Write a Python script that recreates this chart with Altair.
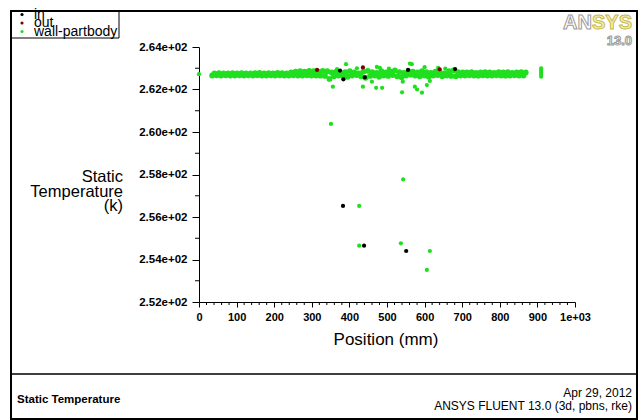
import altair as alt
import pandas as pd

# ---------------- data ----------------
series_names = ["in", "out", "wall-partbody"]
series_colors = ["#000000", "#7a0000", "#1fdf1f"]

band_low_pos = [35, 47, 59, 71, 83, 95, 107, 119, 131, 143, 155, 167, 179, 191, 203, 215, 227,
                239, 251, 263, 275, 287, 299, 311, 323, 335,
                347, 359, 371, 383, 395, 407, 419, 431, 443, 455, 467, 479, 491, 503, 515,
                527, 539, 551, 563, 575, 587, 599, 611, 623, 635, 647, 659, 671, 683, 695,
                707, 719, 731, 743, 755, 767, 779, 791, 803, 815, 827, 839, 851, 863]
band_low_temp = [262.66, 262.67, 262.66, 262.67, 262.66, 262.66, 262.67, 262.66, 262.67, 262.66,
                 262.67, 262.66, 262.66, 262.67, 262.66, 262.67, 262.66,
                 262.66, 262.67, 262.66, 262.66, 262.67, 262.66, 262.66, 262.65, 262.64,
                 262.50, 262.62, 262.66, 262.64, 262.60, 262.66, 262.68, 262.62, 262.55, 262.64,
                 262.66, 262.60, 262.66, 262.64, 262.68, 262.62, 262.58, 262.66, 262.70, 262.66,
                 262.62, 262.66, 262.60, 262.66, 262.68, 262.62, 262.66, 262.64, 262.62, 262.66,
                 262.66, 262.67, 262.66, 262.65, 262.67, 262.66, 262.66, 262.67, 262.66, 262.65,
                 262.66, 262.67, 262.66, 262.66]
band_high_pos = [41, 53, 65, 77, 89, 101, 113, 125, 137, 149, 161, 173, 185, 197, 209, 221, 233,
                 245, 257, 269, 281, 293, 305, 317, 329, 341,
                 353, 365, 377, 389, 401, 413, 425, 437, 449, 461, 473, 485, 497, 509, 521,
                 533, 545, 557, 569, 581, 593, 605, 617, 629, 641, 653, 665, 677, 689, 701,
                 713, 725, 737, 749, 761, 773, 785, 797, 809, 821, 833, 845, 857, 869]
band_high_temp = [262.76, 262.77, 262.76, 262.76, 262.77, 262.76, 262.77, 262.76, 262.76, 262.77,
                  262.78, 262.76, 262.77, 262.76, 262.78, 262.77, 262.76,
                  262.80, 262.84, 262.86, 262.84, 262.88, 262.86, 262.84, 262.88, 262.86,
                  262.80, 262.84, 262.78, 262.82, 262.86, 262.80, 262.76, 262.84, 262.88, 262.82,
                  262.78, 262.86, 262.80, 262.84, 262.90, 262.82, 262.78, 262.86, 262.84, 262.80,
                  262.86, 262.82, 262.78, 262.84, 262.80, 262.76, 262.86, 262.90, 262.82, 262.80,
                  262.80, 262.82, 262.78, 262.80, 262.82, 262.80, 262.78, 262.82, 262.80, 262.82,
                  262.78, 262.80, 262.82, 262.80]

wall_extra_pos = [0, 910, 910, 910, 910, 910,
                  356, 436, 460, 471, 487, 540, 542, 574, 580, 593, 606, 614,
                  391, 367, 481, 566, 636, 473, 561, 420, 505, 600, 655,
                  351, 543, 426, 426, 537, 614, 606]
wall_extra_temp = [262.72, 262.60, 262.70, 262.80, 262.90, 263.00,
                   262.13, 262.13, 262.37, 262.08, 262.08, 261.87, 262.37, 262.13, 262.00, 261.85,
                   262.21, 262.40,
                   263.19, 262.96, 263.02, 263.19, 263.02, 263.06, 263.22, 263.00, 262.98,
                   263.05, 262.98,
                   260.38, 257.77, 256.52, 254.65, 254.76, 254.40, 253.51]

in_pos = [383, 439, 551, 384, 375, 441, 556, 681]
in_temp = [256.52, 254.65, 254.40, 262.48, 262.89, 262.57, 262.92, 262.96]
out_pos = [314, 436, 640]
out_temp = [262.92, 263.04, 262.95]

x_ticks = [0, 100, 200, 300, 400, 500, 600, 700, 800, 900, 1000]
y_ticks = [252, 254, 256, 258, 260, 262, 264]
x_minor = [v for v in range(0, 1001, 20) if v % 100 != 0]
y_minor = [253, 255, 257, 259, 261, 263]

FONT = "Liberation Sans"

# ---------------- tables ----------------
band_df = pd.DataFrame({
    "pos": band_low_pos + band_high_pos,
    "temp": band_low_temp + band_high_temp,
    "series": ["wall-partbody"] * (len(band_low_pos) + len(band_high_pos)),
})
pts_df = pd.DataFrame({
    "pos": wall_extra_pos + in_pos + out_pos,
    "temp": wall_extra_temp + in_temp + out_temp,
    "series": ["wall-partbody"] * len(wall_extra_pos) + ["in"] * len(in_pos) + ["out"] * len(out_pos),
    "z": [0] * len(wall_extra_pos) + [1] * (len(in_pos) + len(out_pos)),
})

xs = alt.Scale(domain=[0, 1000], nice=False, zero=False)
ys = alt.Scale(domain=[252, 264], nice=False, zero=False)
cs = alt.Scale(domain=series_names, range=series_colors)

x_axis = alt.Axis(values=x_ticks, title=None, grid=False, tickSize=5, labelPadding=4,
                  labelExpr="datum.value == 1000 ? '1e+03' : format(datum.value, 'd')",
                  labelOverlap=False, labelFlush=False, labelBound=False,
                  labelFont=FONT, labelFontSize=11, labelFontWeight="bold",
                  labelColor="black", domainColor="black", tickColor="black")
y_axis = alt.Axis(values=y_ticks, title=None, grid=False, tickSize=7, labelPadding=5,
                  labelExpr="format(datum.value / 100, '.2f') + 'e+02'",
                  labelOverlap=False,
                  labelFont=FONT, labelFontSize=11.5, labelFontWeight="bold",
                  labelColor="black", domainColor="black", tickColor="black")

band = alt.Chart(band_df).mark_circle(size=34, opacity=1).encode(
    x=alt.X("pos:Q", scale=xs, axis=x_axis),
    y=alt.Y("temp:Q", scale=ys, axis=y_axis),
    color=alt.Color("series:N", scale=cs, legend=None),
)
pts = alt.Chart(pts_df).mark_circle(size=18, opacity=1).encode(
    x=alt.X("pos:Q", scale=xs, axis=x_axis),
    y=alt.Y("temp:Q", scale=ys, axis=y_axis),
    color=alt.Color("series:N", scale=cs, legend=None),
    order=alt.Order("z:Q"),
)

xminor = alt.Chart(pd.DataFrame({"pos": x_minor})).mark_rule(color="black").encode(
    x=alt.X("pos:Q", scale=xs, axis=x_axis), y=alt.value(255), y2=alt.value(258))
yminor = alt.Chart(pd.DataFrame({"temp": y_minor})).mark_rule(color="black").encode(
    y=alt.Y("temp:Q", scale=ys, axis=y_axis), x=alt.value(-4), x2=alt.value(0))

one = pd.DataFrame({"a": [0]})
OX, OY = 199, 47  # plot origin inside the page


def rx(v):
    return alt.value(v - OX)


def ry(v):
    return alt.value(v - OY)


frame = alt.Chart(one).mark_rect(fill="white", fillOpacity=0, stroke="black", strokeWidth=2).encode(
    x=rx(11), x2=rx(637), y=ry(11), y2=ry(419))
sep = alt.Chart(one).mark_rule(color="black", strokeWidth=1.5).encode(
    x=rx(11), x2=rx(637), y=ry(374))
legbox = alt.Chart(one).mark_rect(fill="white", fillOpacity=0, stroke="black", strokeWidth=1).encode(
    x=rx(11), x2=rx(119), y=ry(11), y2=ry(38))

layers = [band, pts, xminor, yminor, frame, sep, legbox]

# legend entries
leg_sym_y = [14.5, 23, 31.5]
leg_txt_y = [18.5, 27, 35.5]
for name, col, sy, ty in zip(series_names, series_colors, leg_sym_y, leg_txt_y):
    layers.append(alt.Chart(one).mark_circle(size=10, color=col, opacity=1).encode(
        x=rx(22), y=ry(sy)))
    layers.append(alt.Chart(one).mark_text(text=name, font=FONT, fontSize=14, align="left",
                                           baseline="alphabetic", color="black").encode(
        x=rx(34), y=ry(ty)))

# axis titles
for line, by in zip(["Static", "Temperature", "(k)"], [182, 197, 211]):
    layers.append(alt.Chart(one).mark_text(text=line, font=FONT, fontSize=16.5, align="right",
                                           baseline="alphabetic", color="black").encode(
        x=rx(123), y=ry(by)))
layers.append(alt.Chart(one).mark_text(text="Position (mm)", font=FONT, fontSize=17, align="center",
                                       baseline="alphabetic", color="black").encode(
    x=rx(386), y=ry(345)))

# logo
layers.append(alt.Chart(one).mark_text(text="AN", font=FONT, fontSize=20,
                                       fontWeight="bold", align="right", baseline="alphabetic",
                                       fill="#ffffff", stroke="#9a9a9a", strokeWidth=1).encode(
    x=rx(592), y=ry(29)))
layers.append(alt.Chart(one).mark_text(text="SYS", font=FONT, fontSize=20,
                                       fontWeight="bold", align="left", baseline="alphabetic",
                                       fill="#f6f0b0", stroke="#c8b84a", strokeWidth=1).encode(
    x=rx(592), y=ry(29)))
layers.append(alt.Chart(one).mark_text(text="13.0", font=FONT, fontSize=13,
                                       fontWeight="bold", align="right", baseline="alphabetic",
                                       fill="#ffffff", stroke="#9a9a9a", strokeWidth=1).encode(
    x=rx(632), y=ry(45)))

# footer
layers.append(alt.Chart(one).mark_text(text="Static Temperature", font=FONT, fontSize=11.5,
                                       fontWeight="bold", align="left", baseline="middle",
                                       color="black").encode(
    x=rx(17), y=ry(400)))
layers.append(alt.Chart(one).mark_text(text="Apr 29, 2012", font=FONT, fontSize=12,
                                       align="right", baseline="middle", color="black").encode(
    x=rx(632), y=ry(393)))
layers.append(alt.Chart(one).mark_text(text="ANSYS FLUENT 13.0 (3d, pbns, rke)", font=FONT, fontSize=12,
                                       align="right", baseline="middle", color="black").encode(
    x=rx(632), y=ry(406)))

chart = alt.layer(*layers).properties(
    width=376, height=255,
    autosize=alt.AutoSizeParams(type="none"),
    padding={"left": OX, "top": OY, "right": 641 - OX - 376, "bottom": 420 - OY - 255},
    background="white",
).configure_view(stroke=None)

chart.save("out.html", embed_options={"renderer": "svg", "actions": False})
